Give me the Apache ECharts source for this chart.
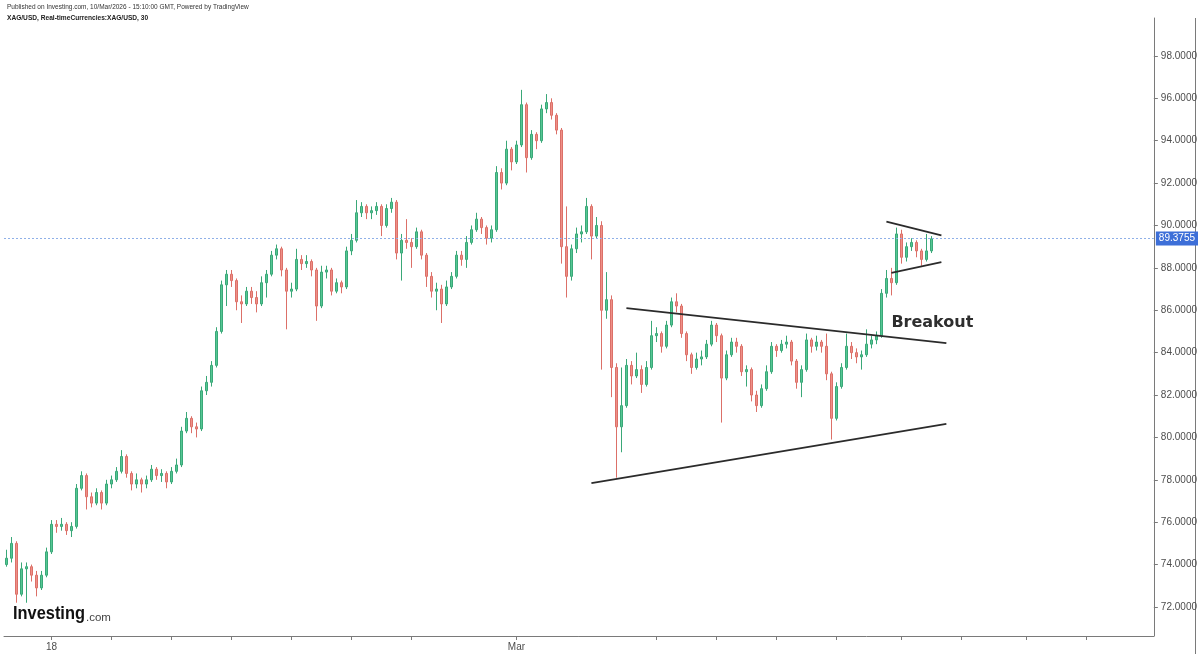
<!DOCTYPE html>
<html><head><meta charset="utf-8">
<script src="https://cdn.jsdelivr.net/npm/echarts@6/dist/echarts.min.js"></script>
<style>html,body{margin:0;padding:0;background:#fff}#c{width:1200px;height:654px}</style>
</head><body><div id="c"></div>
<script>
// ---- data ----
const opens = [
74.0,74.3,75.0,72.6,73.8,73.9,73.5,72.9,73.5,74.6,
75.9,75.8,75.9,75.6,75.8,77.6,78.2,77.2,76.9,77.4,
76.9,77.8,78.0,78.4,79.1,78.3,77.8,78.0,77.8,78.0,
78.5,78.2,78.3,77.9,78.4,78.7,80.3,80.9,80.5,80.4,
82.2,82.6,83.4,85.0,87.2,87.7,87.4,86.4,86.3,86.9,
86.6,86.3,87.3,87.7,88.6,88.9,87.9,86.9,87.0,88.4,
88.2,88.3,87.9,86.2,87.8,87.9,86.9,87.3,87.1,88.8,
89.3,90.6,90.9,90.6,90.7,90.9,90.0,90.8,91.1,88.7,
89.3,89.2,89.0,89.7,88.6,87.6,86.9,87.0,86.3,87.1,
87.6,88.6,88.4,89.2,89.8,90.3,89.9,89.4,89.8,92.5,
92.0,93.6,93.0,93.8,95.7,93.2,94.3,94.0,95.5,95.8,
95.2,94.5,89.0,87.6,88.9,89.6,89.7,90.9,89.5,90.0,
86.0,86.5,83.3,80.5,81.5,83.4,82.9,83.2,82.5,83.3,
84.8,84.9,84.3,85.3,86.4,86.2,84.9,83.9,83.3,83.7,
83.8,84.4,85.3,84.8,82.8,83.9,84.5,84.3,83.1,83.2,
82.0,81.5,82.3,83.1,84.3,84.1,84.4,84.5,83.6,82.6,
83.2,84.6,84.3,84.5,84.3,83.0,80.9,82.4,83.3,84.3,
84.0,83.8,83.9,84.4,84.6,84.8,86.8,87.5,87.3,89.6,
88.5,89.0,89.2,88.8,88.4,88.8];
const closes = [
74.3,75.0,72.6,73.8,73.9,73.5,72.9,73.5,74.6,75.9,
75.8,75.9,75.6,75.8,77.6,78.2,77.2,76.9,77.4,76.9,
77.8,78.0,78.4,79.1,78.3,77.8,78.0,77.8,78.0,78.5,
78.2,78.3,77.9,78.4,78.7,80.3,80.9,80.5,80.4,82.2,
82.6,83.4,85.0,87.2,87.7,87.4,86.4,86.3,86.9,86.6,
86.3,87.3,87.7,88.6,88.9,87.9,86.9,87.0,88.4,88.2,
88.3,87.9,86.2,87.8,87.9,86.9,87.3,87.1,88.8,89.3,
90.6,90.9,90.6,90.7,90.9,90.0,90.8,91.1,88.7,89.3,
89.2,89.0,89.7,88.6,87.6,86.9,87.0,86.3,87.1,87.6,
88.6,88.4,89.2,89.8,90.3,89.9,89.4,89.8,92.5,92.0,
93.6,93.0,93.8,95.7,93.2,94.3,94.0,95.5,95.8,95.2,
94.5,89.0,87.6,88.9,89.6,89.7,90.9,89.5,90.0,86.0,
86.5,83.3,80.5,81.5,83.4,82.9,83.2,82.5,83.3,84.8,
84.9,84.3,85.3,86.4,86.2,84.9,83.9,83.3,83.7,83.8,
84.4,85.3,84.8,82.8,83.9,84.5,84.3,83.1,83.2,82.0,
81.5,82.3,83.1,84.3,84.1,84.4,84.5,83.6,82.6,83.2,
84.6,84.3,84.5,84.3,83.0,80.9,82.4,83.3,84.3,84.0,
83.8,83.9,84.4,84.6,84.8,86.8,87.5,87.3,89.6,88.5,
89.0,89.2,88.8,88.4,88.8,89.3755];
const lows = [
73.9,74.1,72.2,72.5,72.2,73.2,72.5,72.8,73.4,74.5,
75.5,75.6,75.4,75.3,75.7,77.5,76.6,76.7,76.8,76.6,
76.8,77.6,77.9,78.3,78.1,77.5,77.6,77.4,77.6,77.9,
78.0,77.9,77.6,77.8,78.3,78.6,80.2,80.2,80.0,80.3,
82.0,82.4,83.3,84.9,86.2,87.1,86.0,85.4,86.2,86.3,
85.9,86.2,86.6,87.6,88.4,87.6,85.1,86.6,86.9,87.9,
88.0,87.6,85.5,86.1,87.5,86.7,86.8,86.8,87.0,88.6,
89.2,90.4,90.3,90.3,90.5,89.5,89.9,90.6,88.4,87.4,
88.9,88.0,88.9,88.4,87.1,86.6,86.0,85.4,86.2,87.0,
87.5,88.1,88.0,89.1,89.7,89.6,89.1,89.2,89.7,91.7,
91.9,92.6,92.9,93.7,92.5,93.1,93.6,93.9,95.3,95.0,
94.3,88.2,86.6,87.4,88.7,89.2,89.6,88.4,89.4,83.2,
85.6,81.9,78.1,79.3,81.4,82.5,82.8,82.1,82.4,83.2,
84.5,84.0,84.2,85.2,85.9,84.7,83.6,83.0,83.2,83.4,
83.7,84.3,84.5,80.7,82.7,83.8,84.0,82.9,82.4,81.7,
81.2,81.4,82.2,83.0,83.8,84.0,84.2,83.4,82.3,81.9,
83.1,84.0,84.1,84.0,82.7,79.9,80.8,82.3,83.2,83.7,
83.5,83.2,83.8,84.2,84.4,84.7,86.6,86.7,87.2,88.2,
88.3,88.8,88.5,88.1,88.3,88.7];
const highs = [
74.7,75.3,75.1,74.1,74.1,74.0,73.7,73.7,74.8,76.1,
76.1,76.2,76.0,76.0,77.8,78.4,78.3,77.4,77.6,77.5,
78.0,78.2,78.6,79.4,79.2,78.4,78.3,78.1,78.2,78.7,
78.6,78.5,78.4,78.6,79.0,80.5,81.2,81.0,80.7,82.4,
82.9,83.6,85.2,87.4,87.9,87.9,87.5,86.7,87.1,87.1,
86.9,87.6,87.9,88.8,89.1,89.0,88.0,87.3,88.9,88.6,
88.6,88.4,88.0,88.1,88.1,88.0,87.5,87.4,89.0,89.6,
91.2,91.1,91.0,90.9,91.1,91.0,91.0,91.3,91.2,89.6,
90.3,89.4,89.9,89.8,88.7,87.8,87.3,87.2,87.4,87.8,
88.8,88.8,89.5,90.0,90.6,90.4,90.0,90.0,92.8,92.7,
94.0,93.7,94.0,96.4,95.8,94.5,94.4,95.7,96.2,96.0,
95.3,94.6,90.9,89.1,89.9,90.0,91.3,91.0,90.4,90.2,
87.8,86.7,83.5,83.3,83.7,83.6,84.0,83.4,83.6,85.5,
85.2,85.0,85.5,86.6,86.8,86.3,85.0,84.0,84.0,84.1,
84.6,85.5,85.4,84.9,84.1,84.7,84.7,84.4,83.4,83.3,
82.2,82.5,83.4,84.5,84.4,84.6,84.8,84.6,83.7,83.4,
84.9,84.7,84.8,84.6,84.9,83.1,82.6,83.5,84.9,84.5,
84.2,84.1,85.1,84.8,85.0,87.0,87.9,88.0,89.9,89.8,
89.2,89.4,89.3,88.9,89.6,89.5];

const slotCount = 230;                      // category slots across the x axis (incl. empty future space)
const xTickIdx = [9,21,33,45,57,69,81,102,130,142,154,166,179,191,204,216];
const xLabelIdx = [9,102];
const xLabelText = ['18','Mar'];
const yTicks = [72,74,76,78,80,82,84,86,88,90,92,94,96,98];
const yMin = 70.63, yMax = 99.79;
const lastPrice = 89.3755;
const triangleTop = [[124,86.10],[188,84.45]];
const triangleBottom = [[117,77.84],[188,80.64]];
const flagTop = [[176,90.18],[187,89.53]];
const flagBottom = [[177,87.76],[187,88.27]];
const breakoutPoint = [[177,85.40]];
const headerLine1 = 'Published on Investing.com, 10/Mar/2026 - 15:10:00 GMT, Powered by TradingView';
const headerLine2 = 'XAG/USD, Real-timeCurrencies:XAG/USD, 30';

// ---- build ----
const categories = Array.from({length: slotCount}, (_, i) => String(i));
const candles = opens.map((o, i) => [o, closes[i], lows[i], highs[i]]);
const lineStyleTrend = {color: '#2b2b2b', width: 1.8};
function trend(data) {
  return {type: 'line', data: data, symbol: 'none', silent: true, z: 5,
          lineStyle: lineStyleTrend, animation: false};
}

const chart = echarts.init(document.getElementById('c'), null, {renderer: 'canvas'});
chart.setOption({
  animation: false,
  backgroundColor: '#ffffff',
  grid: {left: 4, right: 46, top: 18, bottom: 18, containLabel: false},
  xAxis: {
    type: 'category', data: categories, boundaryGap: true,
    axisLine: {show: true, lineStyle: {color: '#7a7a7a', width: 1}},
    axisTick: {show: true, alignWithLabel: true, length: 4,
      interval: (i) => xTickIdx.includes(i), lineStyle: {color: '#7a7a7a'}},
    axisLabel: {show: true, interval: (i) => xLabelIdx.includes(i),
      formatter: (v, i) => { const k = xLabelIdx.indexOf(Number(v)); return k >= 0 ? xLabelText[k] : ''; },
      color: '#4d4d4d', fontSize: 10, fontFamily: 'Liberation Sans, Arial', margin: 6},
    splitLine: {show: false}
  },
  yAxis: {
    type: 'value', position: 'right', min: yMin, max: yMax, scale: true,
    axisLine: {show: true, lineStyle: {color: '#7a7a7a', width: 1}},
    axisTick: {show: true, length: 4, customValues: yTicks, lineStyle: {color: '#7a7a7a'}},
    axisLabel: {show: true, customValues: yTicks, formatter: (v) => Number(v).toFixed(4),
      color: '#4d4d4d', fontSize: 10, fontFamily: 'Liberation Sans, Arial', margin: 7},
    splitLine: {show: false}
  },
  series: [
    {
      type: 'candlestick', data: candles, barWidth: 2,
      itemStyle: {color: '#55c794', color0: '#ee9088', borderColor: '#3aa878', borderColor0: '#dc7068', borderWidth: 1},
      markLine: {
        symbol: 'none', silent: true, animation: false,
        lineStyle: {color: '#8fb0e8', width: 1, type: [2, 2]},
        label: {show: true, position: 'end', formatter: lastPrice.toFixed(4), color: '#ffffff',
          backgroundColor: '#3d6fd8', padding: [2, 3, 2, 3], fontSize: 10,
          fontFamily: 'Liberation Sans, Arial', distance: 2},
        data: [{yAxis: lastPrice}]
      }
    },
    trend(triangleTop), trend(triangleBottom), trend(flagTop), trend(flagBottom),
    {
      type: 'scatter', data: breakoutPoint, symbolSize: 0, silent: true, z: 6,
      itemStyle: {opacity: 1},
      label: {show: true, position: 'right', distance: 0, formatter: 'Breakout', opacity: 1,
        fontFamily: 'DejaVu Sans', fontWeight: 'bold', fontSize: 16, color: '#2e2e2e'}
    }
  ],
  graphic: [
    {type: 'text', left: 7, top: 4, style: {text: headerLine1, fontSize: 6.5, fontFamily: 'Liberation Sans, Arial', fill: '#333'}},
    {type: 'text', left: 7, top: 15, style: {text: headerLine2, fontSize: 6.6, fontWeight: 'bold', fontFamily: 'Liberation Sans, Arial', fill: '#222'}},
    {type: 'line', shape: {x1: 1195.5, y1: 18, x2: 1195.5, y2: 654}, style: {stroke: '#7a7a7a', lineWidth: 1}},
    {type: 'text', x: 13, y: 605, scaleX: 0.91, style: {text: 'Investing', font: 'bold 18px "Liberation Sans", Arial', fill: '#111'}},
    {type: 'text', x: 86, y: 612, style: {text: '.com', fontSize: 11.5, fontFamily: 'Liberation Sans, Arial', fill: '#444'}}
  ]
});
</script>
</body></html>
